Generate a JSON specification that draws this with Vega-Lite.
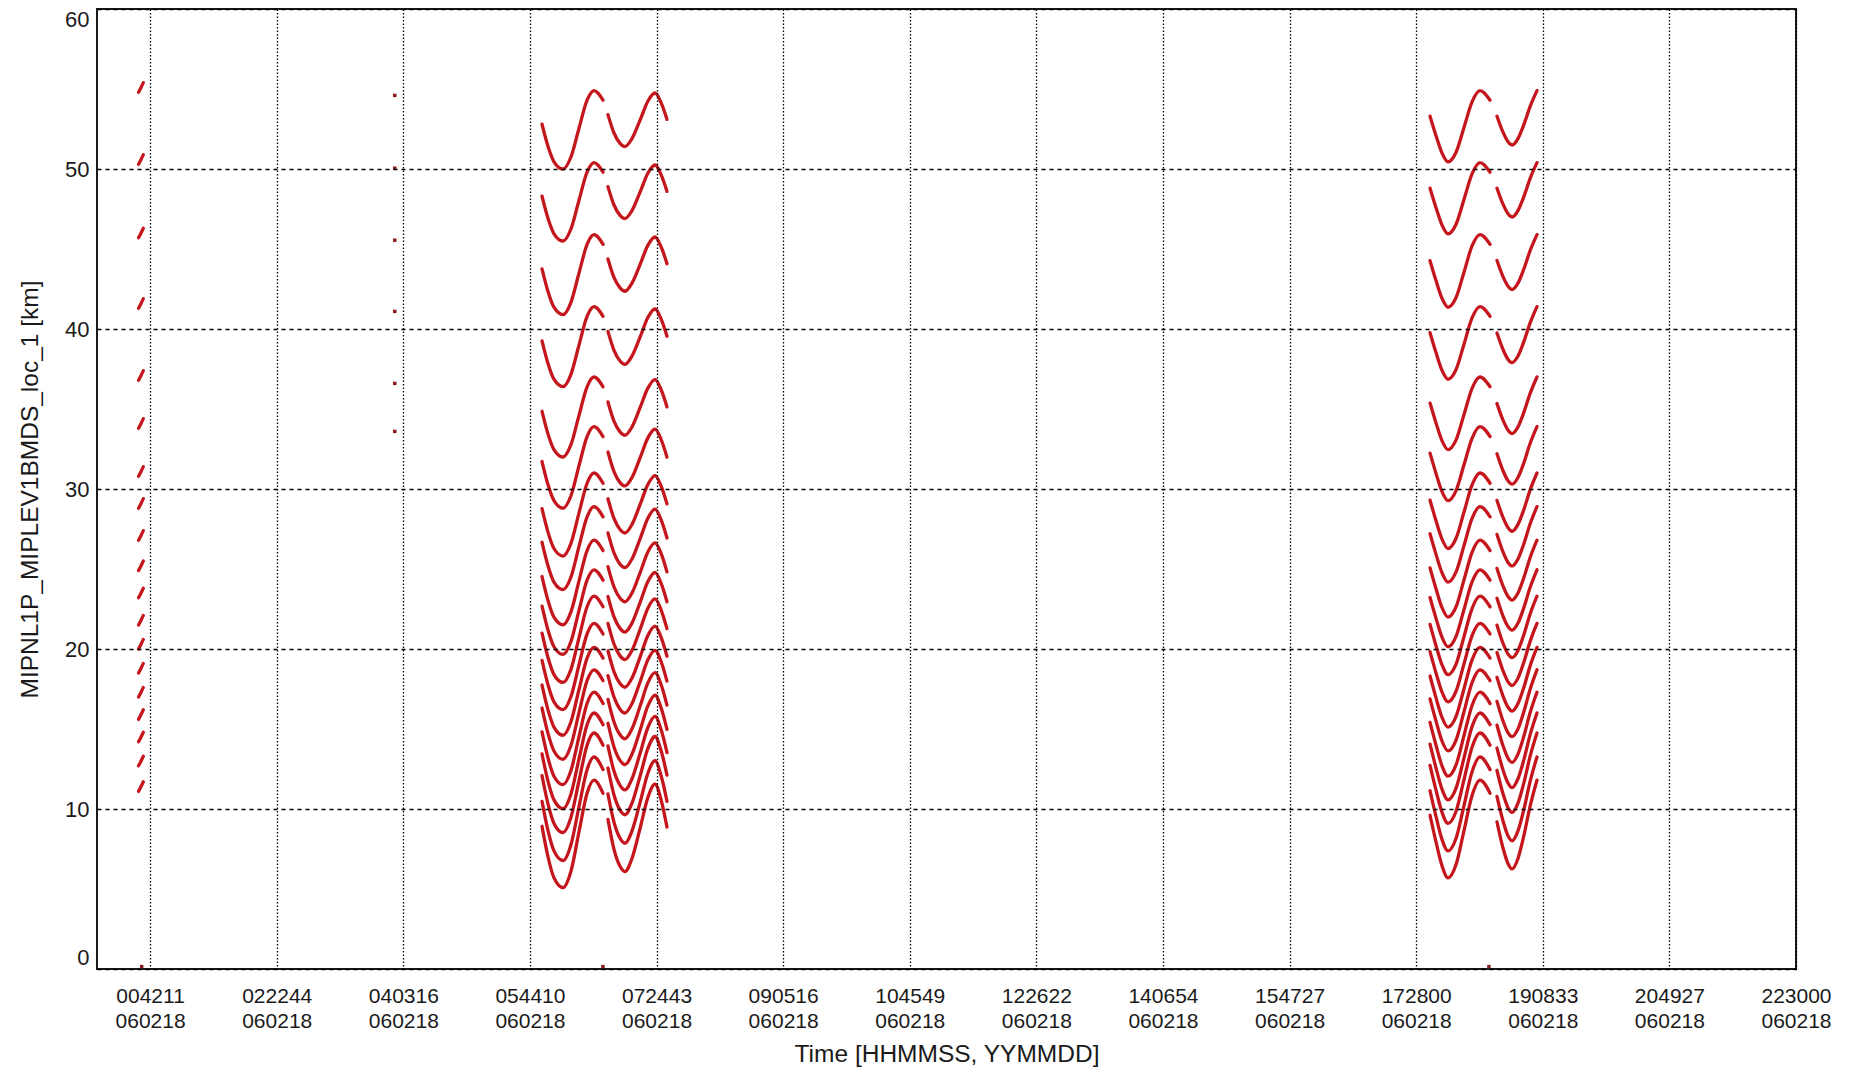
{
"$schema": "https://vega.github.io/schema/vega-lite/v6.json",
"autosize": {"type": "none"},
"padding": {"left": 97, "top": 9, "right": 55, "bottom": 110},
"width": 1699,
"height": 960,
"background": "white",
"config": {"view": {"stroke": "#1a1a1a", "strokeWidth": 2}, "font": "Liberation Sans"},
"datasets": {
"curves": [
{"s":"a1","t":353.6,"h":52.8},{"s":"a1","t":358.4,"h":51.4},{"s":"a1","t":363.1,"h":50.45},{"s":"a1","t":370.3,"h":50.0},{"s":"a1","t":376.6,"h":50.75},{"s":"a1","t":383.0,"h":52.55},{"s":"a1","t":389.4,"h":54.3},{"s":"a1","t":394.9,"h":54.9},{"s":"a1","t":402.1,"h":54.3},
{"s":"b1","t":406.0,"h":53.4},{"s":"b1","t":410.8,"h":52.25},{"s":"b1","t":415.6,"h":51.6},{"s":"b1","t":419.5,"h":51.4},{"s":"b1","t":425.1,"h":51.9},{"s":"b1","t":431.5,"h":53.05},{"s":"b1","t":437.8,"h":54.25},{"s":"b1","t":443.4,"h":54.75},{"s":"b1","t":448.2,"h":54.15},{"s":"b1","t":452.9,"h":53.1},
{"s":"c1","t":1059.2,"h":53.3},{"s":"c1","t":1063.9,"h":52.1},{"s":"c1","t":1068.7,"h":51.0},{"s":"c1","t":1073.5,"h":50.45},{"s":"c1","t":1079.9,"h":51.05},{"s":"c1","t":1086.2,"h":52.6},{"s":"c1","t":1092.6,"h":54.2},{"s":"c1","t":1098.9,"h":54.9},{"s":"c1","t":1106.9,"h":54.3},
{"s":"d1","t":1112.4,"h":53.3},{"s":"d1","t":1117.2,"h":52.3},{"s":"d1","t":1121.2,"h":51.7},{"s":"d1","t":1124.4,"h":51.5},{"s":"d1","t":1129.1,"h":51.9},{"s":"d1","t":1133.9,"h":52.8},{"s":"d1","t":1138.7,"h":53.9},{"s":"d1","t":1144.2,"h":54.9},

{"s":"a2","t":353.6,"h":48.3},{"s":"a2","t":358.4,"h":46.9},{"s":"a2","t":363.1,"h":45.95},{"s":"a2","t":370.3,"h":45.5},{"s":"a2","t":376.6,"h":46.25},{"s":"a2","t":383.0,"h":48.05},{"s":"a2","t":389.4,"h":49.8},{"s":"a2","t":394.9,"h":50.4},{"s":"a2","t":402.1,"h":49.8},
{"s":"b2","t":406.0,"h":48.9},{"s":"b2","t":410.8,"h":47.75},{"s":"b2","t":415.6,"h":47.1},{"s":"b2","t":419.5,"h":46.9},{"s":"b2","t":425.1,"h":47.4},{"s":"b2","t":431.5,"h":48.55},{"s":"b2","t":437.8,"h":49.75},{"s":"b2","t":443.4,"h":50.25},{"s":"b2","t":448.2,"h":49.65},{"s":"b2","t":452.9,"h":48.6},
{"s":"c2","t":1059.2,"h":48.8},{"s":"c2","t":1063.9,"h":47.6},{"s":"c2","t":1068.7,"h":46.5},{"s":"c2","t":1073.5,"h":45.95},{"s":"c2","t":1079.9,"h":46.55},{"s":"c2","t":1086.2,"h":48.1},{"s":"c2","t":1092.6,"h":49.7},{"s":"c2","t":1098.9,"h":50.4},{"s":"c2","t":1106.9,"h":49.8},
{"s":"d2","t":1112.4,"h":48.8},{"s":"d2","t":1117.2,"h":47.8},{"s":"d2","t":1121.2,"h":47.2},{"s":"d2","t":1124.4,"h":47.0},{"s":"d2","t":1129.1,"h":47.4},{"s":"d2","t":1133.9,"h":48.3},{"s":"d2","t":1138.7,"h":49.4},{"s":"d2","t":1144.2,"h":50.4},

{"s":"a3","t":353.6,"h":43.76},{"s":"a3","t":358.4,"h":42.33},{"s":"a3","t":363.1,"h":41.36},{"s":"a3","t":370.3,"h":40.9},{"s":"a3","t":376.6,"h":41.67},{"s":"a3","t":383.0,"h":43.5},{"s":"a3","t":389.4,"h":45.29},{"s":"a3","t":394.9,"h":45.9},{"s":"a3","t":402.1,"h":45.29},
{"s":"b3","t":406.0,"h":44.38},{"s":"b3","t":410.8,"h":43.22},{"s":"b3","t":415.6,"h":42.57},{"s":"b3","t":419.5,"h":42.36},{"s":"b3","t":425.1,"h":42.87},{"s":"b3","t":431.5,"h":44.03},{"s":"b3","t":437.8,"h":45.24},{"s":"b3","t":443.4,"h":45.75},{"s":"b3","t":448.2,"h":45.14},{"s":"b3","t":452.9,"h":44.08},
{"s":"c3","t":1059.2,"h":44.27},{"s":"c3","t":1063.9,"h":43.04},{"s":"c3","t":1068.7,"h":41.92},{"s":"c3","t":1073.5,"h":41.36},{"s":"c3","t":1079.9,"h":41.97},{"s":"c3","t":1086.2,"h":43.55},{"s":"c3","t":1092.6,"h":45.19},{"s":"c3","t":1098.9,"h":45.9},{"s":"c3","t":1106.9,"h":45.29},
{"s":"d3","t":1112.4,"h":44.28},{"s":"d3","t":1117.2,"h":43.27},{"s":"d3","t":1121.2,"h":42.67},{"s":"d3","t":1124.4,"h":42.47},{"s":"d3","t":1129.1,"h":42.87},{"s":"d3","t":1133.9,"h":43.78},{"s":"d3","t":1138.7,"h":44.89},{"s":"d3","t":1144.2,"h":45.9},

{"s":"a4","t":353.6,"h":39.26},{"s":"a4","t":358.4,"h":37.83},{"s":"a4","t":363.1,"h":36.86},{"s":"a4","t":370.3,"h":36.4},{"s":"a4","t":376.6,"h":37.17},{"s":"a4","t":383.0,"h":39.0},{"s":"a4","t":389.4,"h":40.79},{"s":"a4","t":394.9,"h":41.4},{"s":"a4","t":402.1,"h":40.79},
{"s":"b4","t":406.0,"h":39.85},{"s":"b4","t":410.8,"h":38.67},{"s":"b4","t":415.6,"h":38.0},{"s":"b4","t":419.5,"h":37.79},{"s":"b4","t":425.1,"h":38.31},{"s":"b4","t":431.5,"h":39.49},{"s":"b4","t":437.8,"h":40.73},{"s":"b4","t":443.4,"h":41.25},{"s":"b4","t":448.2,"h":40.63},{"s":"b4","t":452.9,"h":39.55},
{"s":"c4","t":1059.2,"h":39.77},{"s":"c4","t":1063.9,"h":38.54},{"s":"c4","t":1068.7,"h":37.42},{"s":"c4","t":1073.5,"h":36.86},{"s":"c4","t":1079.9,"h":37.47},{"s":"c4","t":1086.2,"h":39.05},{"s":"c4","t":1092.6,"h":40.69},{"s":"c4","t":1098.9,"h":41.4},{"s":"c4","t":1106.9,"h":40.79},
{"s":"d4","t":1112.4,"h":39.75},{"s":"d4","t":1117.2,"h":38.72},{"s":"d4","t":1121.2,"h":38.1},{"s":"d4","t":1124.4,"h":37.9},{"s":"d4","t":1129.1,"h":38.31},{"s":"d4","t":1133.9,"h":39.24},{"s":"d4","t":1138.7,"h":40.37},{"s":"d4","t":1144.2,"h":41.4},

{"s":"a5","t":353.6,"h":34.86},{"s":"a5","t":358.4,"h":33.43},{"s":"a5","t":363.1,"h":32.46},{"s":"a5","t":370.3,"h":32.0},{"s":"a5","t":376.6,"h":32.77},{"s":"a5","t":383.0,"h":34.6},{"s":"a5","t":389.4,"h":36.39},{"s":"a5","t":394.9,"h":37.0},{"s":"a5","t":402.1,"h":36.39},
{"s":"b5","t":406.0,"h":35.44},{"s":"b5","t":410.8,"h":34.24},{"s":"b5","t":415.6,"h":33.57},{"s":"b5","t":419.5,"h":33.36},{"s":"b5","t":425.1,"h":33.88},{"s":"b5","t":431.5,"h":35.08},{"s":"b5","t":437.8,"h":36.32},{"s":"b5","t":443.4,"h":36.84},{"s":"b5","t":448.2,"h":36.22},{"s":"b5","t":452.9,"h":35.13},
{"s":"c5","t":1059.2,"h":35.37},{"s":"c5","t":1063.9,"h":34.14},{"s":"c5","t":1068.7,"h":33.02},{"s":"c5","t":1073.5,"h":32.46},{"s":"c5","t":1079.9,"h":33.07},{"s":"c5","t":1086.2,"h":34.65},{"s":"c5","t":1092.6,"h":36.29},{"s":"c5","t":1098.9,"h":37.0},{"s":"c5","t":1106.9,"h":36.39},
{"s":"d5","t":1112.4,"h":35.34},{"s":"d5","t":1117.2,"h":34.3},{"s":"d5","t":1121.2,"h":33.67},{"s":"d5","t":1124.4,"h":33.46},{"s":"d5","t":1129.1,"h":33.88},{"s":"d5","t":1133.9,"h":34.82},{"s":"d5","t":1138.7,"h":35.96},{"s":"d5","t":1144.2,"h":37.0},

{"s":"a6","t":353.6,"h":31.72},{"s":"a6","t":358.4,"h":30.26},{"s":"a6","t":363.1,"h":29.27},{"s":"a6","t":370.3,"h":28.8},{"s":"a6","t":376.6,"h":29.58},{"s":"a6","t":383.0,"h":31.46},{"s":"a6","t":389.4,"h":33.28},{"s":"a6","t":394.9,"h":33.9},{"s":"a6","t":402.1,"h":33.28},
{"s":"b6","t":406.0,"h":32.31},{"s":"b6","t":410.8,"h":31.09},{"s":"b6","t":415.6,"h":30.4},{"s":"b6","t":419.5,"h":30.19},{"s":"b6","t":425.1,"h":30.72},{"s":"b6","t":431.5,"h":31.94},{"s":"b6","t":437.8,"h":33.21},{"s":"b6","t":443.4,"h":33.74},{"s":"b6","t":448.2,"h":33.1},{"s":"b6","t":452.9,"h":31.99},
{"s":"c6","t":1059.2,"h":32.24},{"s":"c6","t":1063.9,"h":30.99},{"s":"c6","t":1068.7,"h":29.84},{"s":"c6","t":1073.5,"h":29.27},{"s":"c6","t":1079.9,"h":29.9},{"s":"c6","t":1086.2,"h":31.51},{"s":"c6","t":1092.6,"h":33.17},{"s":"c6","t":1098.9,"h":33.9},{"s":"c6","t":1106.9,"h":33.28},
{"s":"d6","t":1112.4,"h":32.2},{"s":"d6","t":1117.2,"h":31.14},{"s":"d6","t":1121.2,"h":30.51},{"s":"d6","t":1124.4,"h":30.3},{"s":"d6","t":1129.1,"h":30.72},{"s":"d6","t":1133.9,"h":31.67},{"s":"d6","t":1138.7,"h":32.84},{"s":"d6","t":1144.2,"h":33.9},

{"s":"a7","t":353.6,"h":28.77},{"s":"a7","t":358.4,"h":27.29},{"s":"a7","t":363.1,"h":26.28},{"s":"a7","t":370.3,"h":25.81},{"s":"a7","t":376.6,"h":26.6},{"s":"a7","t":383.0,"h":28.51},{"s":"a7","t":389.4,"h":30.36},{"s":"a7","t":394.9,"h":31.0},{"s":"a7","t":402.1,"h":30.36},
{"s":"b7","t":406.0,"h":29.39},{"s":"b7","t":410.8,"h":28.16},{"s":"b7","t":415.6,"h":27.47},{"s":"b7","t":419.5,"h":27.25},{"s":"b7","t":425.1,"h":27.79},{"s":"b7","t":431.5,"h":29.02},{"s":"b7","t":437.8,"h":30.3},{"s":"b7","t":443.4,"h":30.84},{"s":"b7","t":448.2,"h":30.2},{"s":"b7","t":452.9,"h":29.07},
{"s":"c7","t":1059.2,"h":29.3},{"s":"c7","t":1063.9,"h":28.03},{"s":"c7","t":1068.7,"h":26.87},{"s":"c7","t":1073.5,"h":26.28},{"s":"c7","t":1079.9,"h":26.92},{"s":"c7","t":1086.2,"h":28.56},{"s":"c7","t":1092.6,"h":30.26},{"s":"c7","t":1098.9,"h":31.0},{"s":"c7","t":1106.9,"h":30.36},
{"s":"d7","t":1112.4,"h":29.29},{"s":"d7","t":1117.2,"h":28.22},{"s":"d7","t":1121.2,"h":27.58},{"s":"d7","t":1124.4,"h":27.36},{"s":"d7","t":1129.1,"h":27.79},{"s":"d7","t":1133.9,"h":28.75},{"s":"d7","t":1138.7,"h":29.93},{"s":"d7","t":1144.2,"h":31.0},

{"s":"a8","t":353.6,"h":26.67},{"s":"a8","t":358.4,"h":25.19},{"s":"a8","t":363.1,"h":24.18},{"s":"a8","t":370.3,"h":23.71},{"s":"a8","t":376.6,"h":24.5},{"s":"a8","t":383.0,"h":26.41},{"s":"a8","t":389.4,"h":28.26},{"s":"a8","t":394.9,"h":28.9},{"s":"a8","t":402.1,"h":28.26},
{"s":"b8","t":406.0,"h":27.26},{"s":"b8","t":410.8,"h":26.01},{"s":"b8","t":415.6,"h":25.3},{"s":"b8","t":419.5,"h":25.08},{"s":"b8","t":425.1,"h":25.63},{"s":"b8","t":431.5,"h":26.88},{"s":"b8","t":437.8,"h":28.19},{"s":"b8","t":443.4,"h":28.74},{"s":"b8","t":448.2,"h":28.08},{"s":"b8","t":452.9,"h":26.94},
{"s":"c8","t":1059.2,"h":27.2},{"s":"c8","t":1063.9,"h":25.93},{"s":"c8","t":1068.7,"h":24.77},{"s":"c8","t":1073.5,"h":24.18},{"s":"c8","t":1079.9,"h":24.82},{"s":"c8","t":1086.2,"h":26.46},{"s":"c8","t":1092.6,"h":28.16},{"s":"c8","t":1098.9,"h":28.9},{"s":"c8","t":1106.9,"h":28.26},
{"s":"d8","t":1112.4,"h":27.16},{"s":"d8","t":1117.2,"h":26.07},{"s":"d8","t":1121.2,"h":25.41},{"s":"d8","t":1124.4,"h":25.19},{"s":"d8","t":1129.1,"h":25.63},{"s":"d8","t":1133.9,"h":26.61},{"s":"d8","t":1138.7,"h":27.81},{"s":"d8","t":1144.2,"h":28.9},

{"s":"a9","t":353.6,"h":24.53},{"s":"a9","t":358.4,"h":23.02},{"s":"a9","t":363.1,"h":21.99},{"s":"a9","t":370.3,"h":21.51},{"s":"a9","t":376.6,"h":22.32},{"s":"a9","t":383.0,"h":24.26},{"s":"a9","t":389.4,"h":26.15},{"s":"a9","t":394.9,"h":26.8},{"s":"a9","t":402.1,"h":26.15},
{"s":"b9","t":406.0,"h":25.15},{"s":"b9","t":410.8,"h":23.88},{"s":"b9","t":415.6,"h":23.17},{"s":"b9","t":419.5,"h":22.95},{"s":"b9","t":425.1,"h":23.5},{"s":"b9","t":431.5,"h":24.76},{"s":"b9","t":437.8,"h":26.08},{"s":"b9","t":443.4,"h":26.63},{"s":"b9","t":448.2,"h":25.97},{"s":"b9","t":452.9,"h":24.82},
{"s":"c9","t":1059.2,"h":25.07},{"s":"c9","t":1063.9,"h":23.78},{"s":"c9","t":1068.7,"h":22.59},{"s":"c9","t":1073.5,"h":21.99},{"s":"c9","t":1079.9,"h":22.64},{"s":"c9","t":1086.2,"h":24.32},{"s":"c9","t":1092.6,"h":26.04},{"s":"c9","t":1098.9,"h":26.8},{"s":"c9","t":1106.9,"h":26.15},
{"s":"d9","t":1112.4,"h":25.04},{"s":"d9","t":1117.2,"h":23.94},{"s":"d9","t":1121.2,"h":23.28},{"s":"d9","t":1124.4,"h":23.06},{"s":"d9","t":1129.1,"h":23.5},{"s":"d9","t":1133.9,"h":24.49},{"s":"d9","t":1138.7,"h":25.7},{"s":"d9","t":1144.2,"h":26.8},

{"s":"a10","t":353.6,"h":22.68},{"s":"a10","t":358.4,"h":21.17},{"s":"a10","t":363.1,"h":20.14},{"s":"a10","t":370.3,"h":19.66},{"s":"a10","t":376.6,"h":20.47},{"s":"a10","t":383.0,"h":22.41},{"s":"a10","t":389.4,"h":24.3},{"s":"a10","t":394.9,"h":24.95},{"s":"a10","t":402.1,"h":24.3},
{"s":"b10","t":406.0,"h":23.28},{"s":"b10","t":410.8,"h":22.01},{"s":"b10","t":415.6,"h":21.29},{"s":"b10","t":419.5,"h":21.06},{"s":"b10","t":425.1,"h":21.62},{"s":"b10","t":431.5,"h":22.9},{"s":"b10","t":437.8,"h":24.23},{"s":"b10","t":443.4,"h":24.78},{"s":"b10","t":448.2,"h":24.12},{"s":"b10","t":452.9,"h":22.95},
{"s":"c10","t":1059.2,"h":23.22},{"s":"c10","t":1063.9,"h":21.93},{"s":"c10","t":1068.7,"h":20.74},{"s":"c10","t":1073.5,"h":20.14},{"s":"c10","t":1079.9,"h":20.79},{"s":"c10","t":1086.2,"h":22.47},{"s":"c10","t":1092.6,"h":24.19},{"s":"c10","t":1098.9,"h":24.95},{"s":"c10","t":1106.9,"h":24.3},
{"s":"d10","t":1112.4,"h":23.17},{"s":"d10","t":1117.2,"h":22.06},{"s":"d10","t":1121.2,"h":21.4},{"s":"d10","t":1124.4,"h":21.18},{"s":"d10","t":1129.1,"h":21.62},{"s":"d10","t":1133.9,"h":22.62},{"s":"d10","t":1138.7,"h":23.84},{"s":"d10","t":1144.2,"h":24.95},

{"s":"a11","t":353.6,"h":20.99},{"s":"a11","t":358.4,"h":19.45},{"s":"a11","t":363.1,"h":18.4},{"s":"a11","t":370.3,"h":17.91},{"s":"a11","t":376.6,"h":18.73},{"s":"a11","t":383.0,"h":20.71},{"s":"a11","t":389.4,"h":22.64},{"s":"a11","t":394.9,"h":23.3},{"s":"a11","t":402.1,"h":22.64},
{"s":"b11","t":406.0,"h":21.6},{"s":"b11","t":410.8,"h":20.31},{"s":"b11","t":415.6,"h":19.57},{"s":"b11","t":419.5,"h":19.34},{"s":"b11","t":425.1,"h":19.91},{"s":"b11","t":431.5,"h":21.21},{"s":"b11","t":437.8,"h":22.57},{"s":"b11","t":443.4,"h":23.13},{"s":"b11","t":448.2,"h":22.45},{"s":"b11","t":452.9,"h":21.27},
{"s":"c11","t":1059.2,"h":21.54},{"s":"c11","t":1063.9,"h":20.22},{"s":"c11","t":1068.7,"h":19.01},{"s":"c11","t":1073.5,"h":18.4},{"s":"c11","t":1079.9,"h":19.06},{"s":"c11","t":1086.2,"h":20.77},{"s":"c11","t":1092.6,"h":22.53},{"s":"c11","t":1098.9,"h":23.3},{"s":"c11","t":1106.9,"h":22.64},
{"s":"d11","t":1112.4,"h":21.49},{"s":"d11","t":1117.2,"h":20.36},{"s":"d11","t":1121.2,"h":19.68},{"s":"d11","t":1124.4,"h":19.46},{"s":"d11","t":1129.1,"h":19.91},{"s":"d11","t":1133.9,"h":20.93},{"s":"d11","t":1138.7,"h":22.17},{"s":"d11","t":1144.2,"h":23.3},

{"s":"a12","t":353.6,"h":19.29},{"s":"a12","t":358.4,"h":17.75},{"s":"a12","t":363.1,"h":16.7},{"s":"a12","t":370.3,"h":16.21},{"s":"a12","t":376.6,"h":17.03},{"s":"a12","t":383.0,"h":19.01},{"s":"a12","t":389.4,"h":20.94},{"s":"a12","t":394.9,"h":21.6},{"s":"a12","t":402.1,"h":20.94},
{"s":"b12","t":406.0,"h":19.89},{"s":"b12","t":410.8,"h":18.58},{"s":"b12","t":415.6,"h":17.84},{"s":"b12","t":419.5,"h":17.61},{"s":"b12","t":425.1,"h":18.18},{"s":"b12","t":431.5,"h":19.49},{"s":"b12","t":437.8,"h":20.86},{"s":"b12","t":443.4,"h":21.43},{"s":"b12","t":448.2,"h":20.74},{"s":"b12","t":452.9,"h":19.55},
{"s":"c12","t":1059.2,"h":19.84},{"s":"c12","t":1063.9,"h":18.52},{"s":"c12","t":1068.7,"h":17.31},{"s":"c12","t":1073.5,"h":16.7},{"s":"c12","t":1079.9,"h":17.36},{"s":"c12","t":1086.2,"h":19.07},{"s":"c12","t":1092.6,"h":20.83},{"s":"c12","t":1098.9,"h":21.6},{"s":"c12","t":1106.9,"h":20.94},
{"s":"d12","t":1112.4,"h":19.78},{"s":"d12","t":1117.2,"h":18.64},{"s":"d12","t":1121.2,"h":17.95},{"s":"d12","t":1124.4,"h":17.72},{"s":"d12","t":1129.1,"h":18.18},{"s":"d12","t":1133.9,"h":19.21},{"s":"d12","t":1138.7,"h":20.46},{"s":"d12","t":1144.2,"h":21.6},

{"s":"a13","t":353.6,"h":17.75},{"s":"a13","t":358.4,"h":16.18},{"s":"a13","t":363.1,"h":15.12},{"s":"a13","t":370.3,"h":14.61},{"s":"a13","t":376.6,"h":15.45},{"s":"a13","t":383.0,"h":17.47},{"s":"a13","t":389.4,"h":19.43},{"s":"a13","t":394.9,"h":20.1},{"s":"a13","t":402.1,"h":19.43},
{"s":"b13","t":406.0,"h":18.34},{"s":"b13","t":410.8,"h":17.0},{"s":"b13","t":415.6,"h":16.24},{"s":"b13","t":419.5,"h":16.0},{"s":"b13","t":425.1,"h":16.59},{"s":"b13","t":431.5,"h":17.94},{"s":"b13","t":437.8,"h":19.34},{"s":"b13","t":443.4,"h":19.92},{"s":"b13","t":448.2,"h":19.22},{"s":"b13","t":452.9,"h":17.99},
{"s":"c13","t":1059.2,"h":18.31},{"s":"c13","t":1063.9,"h":16.96},{"s":"c13","t":1068.7,"h":15.73},{"s":"c13","t":1073.5,"h":15.12},{"s":"c13","t":1079.9,"h":15.79},{"s":"c13","t":1086.2,"h":17.52},{"s":"c13","t":1092.6,"h":19.32},{"s":"c13","t":1098.9,"h":20.1},{"s":"c13","t":1106.9,"h":19.43},
{"s":"d13","t":1112.4,"h":18.23},{"s":"d13","t":1117.2,"h":17.06},{"s":"d13","t":1121.2,"h":16.36},{"s":"d13","t":1124.4,"h":16.12},{"s":"d13","t":1129.1,"h":16.59},{"s":"d13","t":1133.9,"h":17.64},{"s":"d13","t":1138.7,"h":18.93},{"s":"d13","t":1144.2,"h":20.1},

{"s":"a14","t":353.6,"h":16.31},{"s":"a14","t":358.4,"h":14.71},{"s":"a14","t":363.1,"h":13.63},{"s":"a14","t":370.3,"h":13.11},{"s":"a14","t":376.6,"h":13.97},{"s":"a14","t":383.0,"h":16.02},{"s":"a14","t":389.4,"h":18.02},{"s":"a14","t":394.9,"h":18.7},{"s":"a14","t":402.1,"h":18.02},
{"s":"b14","t":406.0,"h":16.85},{"s":"b14","t":410.8,"h":15.44},{"s":"b14","t":415.6,"h":14.64},{"s":"b14","t":419.5,"h":14.39},{"s":"b14","t":425.1,"h":15.01},{"s":"b14","t":431.5,"h":16.42},{"s":"b14","t":437.8,"h":17.9},{"s":"b14","t":443.4,"h":18.52},{"s":"b14","t":448.2,"h":17.78},{"s":"b14","t":452.9,"h":16.49},
{"s":"c14","t":1059.2,"h":16.88},{"s":"c14","t":1063.9,"h":15.51},{"s":"c14","t":1068.7,"h":14.25},{"s":"c14","t":1073.5,"h":13.63},{"s":"c14","t":1079.9,"h":14.31},{"s":"c14","t":1086.2,"h":16.08},{"s":"c14","t":1092.6,"h":17.9},{"s":"c14","t":1098.9,"h":18.7},{"s":"c14","t":1106.9,"h":18.02},
{"s":"d14","t":1112.4,"h":16.73},{"s":"d14","t":1117.2,"h":15.5},{"s":"d14","t":1121.2,"h":14.76},{"s":"d14","t":1124.4,"h":14.52},{"s":"d14","t":1129.1,"h":15.01},{"s":"d14","t":1133.9,"h":16.12},{"s":"d14","t":1138.7,"h":17.47},{"s":"d14","t":1144.2,"h":18.7},

{"s":"a15","t":353.6,"h":14.82},{"s":"a15","t":358.4,"h":13.17},{"s":"a15","t":363.1,"h":12.05},{"s":"a15","t":370.3,"h":11.52},{"s":"a15","t":376.6,"h":12.4},{"s":"a15","t":383.0,"h":14.53},{"s":"a15","t":389.4,"h":16.59},{"s":"a15","t":394.9,"h":17.3},{"s":"a15","t":402.1,"h":16.59},
{"s":"b15","t":406.0,"h":15.36},{"s":"b15","t":410.8,"h":13.88},{"s":"b15","t":415.6,"h":13.04},{"s":"b15","t":419.5,"h":12.78},{"s":"b15","t":425.1,"h":13.43},{"s":"b15","t":431.5,"h":14.91},{"s":"b15","t":437.8,"h":16.46},{"s":"b15","t":443.4,"h":17.11},{"s":"b15","t":448.2,"h":16.33},{"s":"b15","t":452.9,"h":14.98},
{"s":"c15","t":1059.2,"h":15.41},{"s":"c15","t":1063.9,"h":14.0},{"s":"c15","t":1068.7,"h":12.7},{"s":"c15","t":1073.5,"h":12.05},{"s":"c15","t":1079.9,"h":12.76},{"s":"c15","t":1086.2,"h":14.59},{"s":"c15","t":1092.6,"h":16.47},{"s":"c15","t":1098.9,"h":17.3},{"s":"c15","t":1106.9,"h":16.59},
{"s":"d15","t":1112.4,"h":15.24},{"s":"d15","t":1117.2,"h":13.95},{"s":"d15","t":1121.2,"h":13.17},{"s":"d15","t":1124.4,"h":12.91},{"s":"d15","t":1129.1,"h":13.43},{"s":"d15","t":1133.9,"h":14.59},{"s":"d15","t":1138.7,"h":16.01},{"s":"d15","t":1144.2,"h":17.3},

{"s":"a16","t":353.6,"h":13.44},{"s":"a16","t":358.4,"h":11.73},{"s":"a16","t":363.1,"h":10.57},{"s":"a16","t":370.3,"h":10.02},{"s":"a16","t":376.6,"h":10.94},{"s":"a16","t":383.0,"h":13.13},{"s":"a16","t":389.4,"h":15.27},{"s":"a16","t":394.9,"h":16.0},{"s":"a16","t":402.1,"h":15.27},
{"s":"b16","t":406.0,"h":13.94},{"s":"b16","t":410.8,"h":12.37},{"s":"b16","t":415.6,"h":11.48},{"s":"b16","t":419.5,"h":11.2},{"s":"b16","t":425.1,"h":11.89},{"s":"b16","t":431.5,"h":13.47},{"s":"b16","t":437.8,"h":15.11},{"s":"b16","t":443.4,"h":15.79},{"s":"b16","t":448.2,"h":14.97},{"s":"b16","t":452.9,"h":13.53},
{"s":"c16","t":1059.2,"h":14.05},{"s":"c16","t":1063.9,"h":12.58},{"s":"c16","t":1068.7,"h":11.24},{"s":"c16","t":1073.5,"h":10.57},{"s":"c16","t":1079.9,"h":11.3},{"s":"c16","t":1086.2,"h":13.19},{"s":"c16","t":1092.6,"h":15.15},{"s":"c16","t":1098.9,"h":16.0},{"s":"c16","t":1106.9,"h":15.27},
{"s":"d16","t":1112.4,"h":13.81},{"s":"d16","t":1117.2,"h":12.44},{"s":"d16","t":1121.2,"h":11.62},{"s":"d16","t":1124.4,"h":11.34},{"s":"d16","t":1129.1,"h":11.89},{"s":"d16","t":1133.9,"h":13.12},{"s":"d16","t":1138.7,"h":14.63},{"s":"d16","t":1144.2,"h":16.0},

{"s":"a17","t":353.6,"h":12.08},{"s":"a17","t":358.4,"h":10.3},{"s":"a17","t":363.1,"h":9.1},{"s":"a17","t":370.3,"h":8.53},{"s":"a17","t":376.6,"h":9.48},{"s":"a17","t":383.0,"h":11.77},{"s":"a17","t":389.4,"h":13.99},{"s":"a17","t":394.9,"h":14.75},{"s":"a17","t":402.1,"h":13.99},
{"s":"b17","t":406.0,"h":12.56},{"s":"b17","t":410.8,"h":10.88},{"s":"b17","t":415.6,"h":9.93},{"s":"b17","t":419.5,"h":9.64},{"s":"b17","t":425.1,"h":10.37},{"s":"b17","t":431.5,"h":12.05},{"s":"b17","t":437.8,"h":13.8},{"s":"b17","t":443.4,"h":14.53},{"s":"b17","t":448.2,"h":13.65},{"s":"b17","t":452.9,"h":12.12},
{"s":"c17","t":1059.2,"h":12.72},{"s":"c17","t":1063.9,"h":11.19},{"s":"c17","t":1068.7,"h":9.8},{"s":"c17","t":1073.5,"h":9.1},{"s":"c17","t":1079.9,"h":9.86},{"s":"c17","t":1086.2,"h":11.83},{"s":"c17","t":1092.6,"h":13.86},{"s":"c17","t":1098.9,"h":14.75},{"s":"c17","t":1106.9,"h":13.99},
{"s":"d17","t":1112.4,"h":12.41},{"s":"d17","t":1117.2,"h":10.95},{"s":"d17","t":1121.2,"h":10.08},{"s":"d17","t":1124.4,"h":9.79},{"s":"d17","t":1129.1,"h":10.37},{"s":"d17","t":1133.9,"h":11.68},{"s":"d17","t":1138.7,"h":13.29},{"s":"d17","t":1144.2,"h":14.75},

{"s":"a18","t":353.6,"h":10.48},{"s":"a18","t":358.4,"h":8.63},{"s":"a18","t":363.1,"h":7.38},{"s":"a18","t":370.3,"h":6.78},{"s":"a18","t":376.6,"h":7.77},{"s":"a18","t":383.0,"h":10.15},{"s":"a18","t":389.4,"h":12.46},{"s":"a18","t":394.9,"h":13.25},{"s":"a18","t":402.1,"h":12.46},
{"s":"b18","t":406.0,"h":10.94},{"s":"b18","t":410.8,"h":9.17},{"s":"b18","t":415.6,"h":8.17},{"s":"b18","t":419.5,"h":7.86},{"s":"b18","t":425.1,"h":8.63},{"s":"b18","t":431.5,"h":10.4},{"s":"b18","t":437.8,"h":12.25},{"s":"b18","t":443.4,"h":13.02},{"s":"b18","t":448.2,"h":12.09},{"s":"b18","t":452.9,"h":10.48},
{"s":"c18","t":1059.2,"h":11.14},{"s":"c18","t":1063.9,"h":9.55},{"s":"c18","t":1068.7,"h":8.1},{"s":"c18","t":1073.5,"h":7.38},{"s":"c18","t":1079.9,"h":8.17},{"s":"c18","t":1086.2,"h":10.21},{"s":"c18","t":1092.6,"h":12.33},{"s":"c18","t":1098.9,"h":13.25},{"s":"c18","t":1106.9,"h":12.46},
{"s":"d18","t":1112.4,"h":10.79},{"s":"d18","t":1117.2,"h":9.25},{"s":"d18","t":1121.2,"h":8.32},{"s":"d18","t":1124.4,"h":8.01},{"s":"d18","t":1129.1,"h":8.63},{"s":"d18","t":1133.9,"h":10.02},{"s":"d18","t":1138.7,"h":11.71},{"s":"d18","t":1144.2,"h":13.25},

{"s":"a19","t":353.6,"h":8.92},{"s":"a19","t":358.4,"h":7.0},{"s":"a19","t":363.1,"h":5.7},{"s":"a19","t":370.3,"h":5.09},{"s":"a19","t":376.6,"h":6.11},{"s":"a19","t":383.0,"h":8.58},{"s":"a19","t":389.4,"h":10.98},{"s":"a19","t":394.9,"h":11.8},{"s":"a19","t":402.1,"h":10.98},
{"s":"b19","t":406.0,"h":9.35},{"s":"b19","t":410.8,"h":7.48},{"s":"b19","t":415.6,"h":6.42},{"s":"b19","t":419.5,"h":6.09},{"s":"b19","t":425.1,"h":6.91},{"s":"b19","t":431.5,"h":8.78},{"s":"b19","t":437.8,"h":10.74},{"s":"b19","t":443.4,"h":11.56},{"s":"b19","t":448.2,"h":10.58},{"s":"b19","t":452.9,"h":8.87},
{"s":"c19","t":1059.2,"h":9.61},{"s":"c19","t":1063.9,"h":7.96},{"s":"c19","t":1068.7,"h":6.46},{"s":"c19","t":1073.5,"h":5.7},{"s":"c19","t":1079.9,"h":6.53},{"s":"c19","t":1086.2,"h":8.65},{"s":"c19","t":1092.6,"h":10.84},{"s":"c19","t":1098.9,"h":11.8},{"s":"c19","t":1106.9,"h":10.98},
{"s":"d19","t":1112.4,"h":9.19},{"s":"d19","t":1117.2,"h":7.56},{"s":"d19","t":1121.2,"h":6.58},{"s":"d19","t":1124.4,"h":6.26},{"s":"d19","t":1129.1,"h":6.91},{"s":"d19","t":1133.9,"h":8.38},{"s":"d19","t":1138.7,"h":10.17},{"s":"d19","t":1144.2,"h":11.8},

{"s":"e1","t":33.0,"h":54.8},{"s":"e1","t":35.0,"h":55.1},{"s":"e1","t":36.8,"h":55.4},
{"s":"e2","t":33.0,"h":50.3},{"s":"e2","t":35.0,"h":50.6},{"s":"e2","t":36.8,"h":50.9},
{"s":"e3","t":33.0,"h":45.7},{"s":"e3","t":35.0,"h":46.0},{"s":"e3","t":36.8,"h":46.3},
{"s":"e4","t":33.0,"h":41.3},{"s":"e4","t":35.0,"h":41.6},{"s":"e4","t":36.8,"h":41.9},
{"s":"e5","t":33.0,"h":36.8},{"s":"e5","t":35.0,"h":37.1},{"s":"e5","t":36.8,"h":37.4},
{"s":"e6","t":33.0,"h":33.8},{"s":"e6","t":35.0,"h":34.1},{"s":"e6","t":36.8,"h":34.4},
{"s":"e7","t":33.0,"h":30.8},{"s":"e7","t":35.0,"h":31.1},{"s":"e7","t":36.8,"h":31.4},
{"s":"e8","t":33.0,"h":28.8},{"s":"e8","t":35.0,"h":29.1},{"s":"e8","t":36.8,"h":29.4},
{"s":"e9","t":33.0,"h":26.8},{"s":"e9","t":35.0,"h":27.1},{"s":"e9","t":36.8,"h":27.4},
{"s":"e10","t":33.0,"h":24.9},{"s":"e10","t":35.0,"h":25.2},{"s":"e10","t":36.8,"h":25.5},
{"s":"e11","t":33.0,"h":23.2},{"s":"e11","t":35.0,"h":23.5},{"s":"e11","t":36.8,"h":23.8},
{"s":"e12","t":33.0,"h":21.5},{"s":"e12","t":35.0,"h":21.8},{"s":"e12","t":36.8,"h":22.1},
{"s":"e13","t":33.0,"h":20.0},{"s":"e13","t":35.0,"h":20.3},{"s":"e13","t":36.8,"h":20.6},
{"s":"e14","t":33.0,"h":18.5},{"s":"e14","t":35.0,"h":18.8},{"s":"e14","t":36.8,"h":19.1},
{"s":"e15","t":33.0,"h":17.0},{"s":"e15","t":35.0,"h":17.3},{"s":"e15","t":36.8,"h":17.6},
{"s":"e16","t":33.0,"h":15.6},{"s":"e16","t":35.0,"h":15.9},{"s":"e16","t":36.8,"h":16.2},
{"s":"e17","t":33.0,"h":14.2},{"s":"e17","t":35.0,"h":14.5},{"s":"e17","t":36.8,"h":14.8},
{"s":"e18","t":33.0,"h":12.7},{"s":"e18","t":35.0,"h":13.0},{"s":"e18","t":36.8,"h":13.3},
{"s":"e19","t":33.0,"h":11.1},{"s":"e19","t":35.0,"h":11.4},{"s":"e19","t":36.8,"h":11.7}
],
"dots": [
{"t":236.6,"h":54.6},{"t":236.6,"h":50.05},{"t":236.6,"h":45.55},{"t":236.6,"h":41.1},{"t":236.6,"h":36.6},{"t":236.6,"h":33.6},
{"t":35.5,"h":0.15},{"t":402.0,"h":0.15},{"t":1106.0,"h":0.15}
]
},
"layer": [
{
"data": {"name": "curves"},
"mark": {"type": "line", "interpolate": "monotone", "color": "#c4161c", "strokeWidth": 3.3, "strokeCap": "round", "clip": true},
"encoding": {
"x": {"field": "t", "type": "quantitative",
"scale": {"domain": [0, 1350], "nice": false, "zero": false},
"axis": {
"values": [42.1833, 142.7846, 243.3859, 343.9872, 444.5885, 545.1898, 645.7911, 746.3924, 846.9937, 947.595, 1048.1963, 1148.7976, 1249.3989, 1350],
"labelExpr": "[['004211','022244','040316','054410','072443','090516','104549','122622','140654','154727','172800','190833','204927','223000'][round((datum.value-42.1833)/100.6013)], '060218']",
"title": "Time [HHMMSS, YYMMDD]",
"ticks": false, "domain": false,
"labelFontSize": 21, "labelColor": "#1a1a1a", "labelPadding": 16, "labelLineHeight": 25,
"labelFlush": false, "labelOverlap": false,
"grid": true, "gridColor": "#000000", "gridDash": [1.5, 2], "gridWidth": 1.3, "gridOpacity": 1,
"titleFontSize": 24.5, "titleFontWeight": "normal", "titleColor": "#1a1a1a",
"titleY": 85, "titleBaseline": "middle",
"zindex": 1
}},
"y": {"field": "h", "type": "quantitative",
"scale": {"domain": [0, 60], "nice": false, "zero": false},
"axis": {
"values": [0, 10, 20, 30, 40, 50, 60],
"title": "MIPNL1P_MIPLEV1BMDS_loc_1 [km]",
"ticks": false, "domain": false,
"labelFontSize": 22, "labelColor": "#1a1a1a", "labelPadding": 8, "labelFlush": true,
"grid": true, "gridColor": "#000000", "gridDash": [4, 4], "gridWidth": 1.4, "gridOpacity": 1,
"titleFontSize": 24.5, "titleFontWeight": "normal", "titleColor": "#1a1a1a",
"titleX": -67, "titleY": 480, "titleBaseline": "middle", "titleAlign": "center", "titleAngle": -90,
"zindex": 1
}},
"detail": {"field": "s", "type": "nominal"}
}
},
{
"data": {"name": "dots"},
"mark": {"type": "point", "shape": "square", "filled": true, "size": 12, "color": "#8a1c1c", "opacity": 1},
"encoding": {
"x": {"field": "t", "type": "quantitative"},
"y": {"field": "h", "type": "quantitative"}
}
}
]
}
